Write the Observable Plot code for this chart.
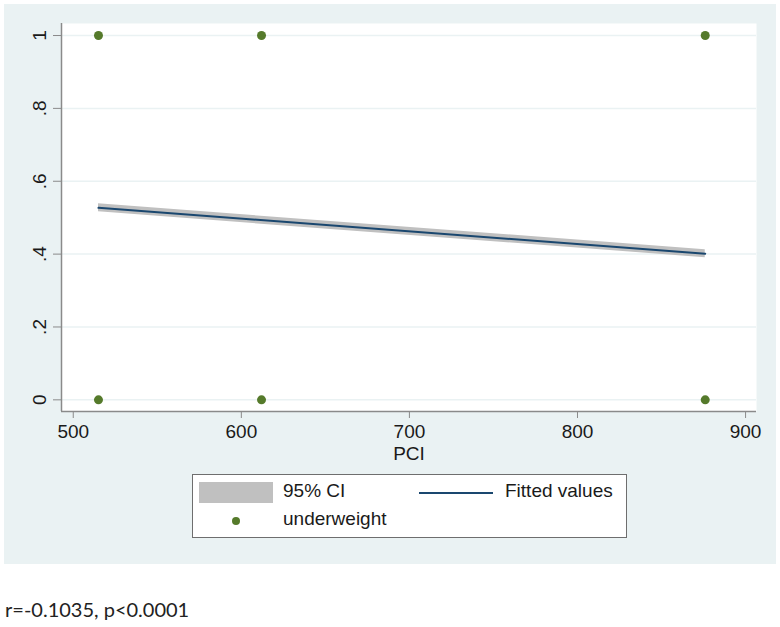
<!DOCTYPE html>
<html>
<head>
<meta charset="utf-8">
<script src="https://cdn.jsdelivr.net/npm/d3@7"></script>
<script src="https://cdn.jsdelivr.net/npm/@observablehq/plot@0.6"></script>
<style>
  html, body { margin: 0; padding: 0; background: #ffffff; }
  #wrap { position: relative; width: 780px; height: 627px; overflow: hidden; }
  #panel { position: absolute; left: 4px; top: 4px; width: 772px; height: 560px; background: #eaf2f3; }
  #chart { position: absolute; left: 0; top: 0; }
  #legend { position: absolute; left: 192px; top: 474px; width: 433px; height: 62px; background: #ffffff; border: 1px solid #6e6e6e;
            font-family: "Liberation Sans", Arial, sans-serif; font-size: 19px; color: #1a1a1a; }
  .lg { position: absolute; }
  #caption { position: absolute; left: 5px; top: 597px; font-family: Lato, "Open Sans", sans-serif; font-size: 20px; color: #222; white-space: nowrap; }
</style>
</head>
<body>
<div id="wrap">
  <div id="panel"></div>
  <div id="chart"></div>
  <div id="legend"></div>
  <div id="caption"></div>
</div>
<script>
// ---- data ----
const pointX = [515, 515, 612, 612, 876, 876];
const pointY = [1, 0, 1, 0, 1, 0];
const fitX = [515, 876];
const fitY = [0.527, 0.401];
const ciLow = [0.516, 0.390];
const ciHigh = [0.538, 0.412];
const xTicks = [500, 600, 700, 800, 900];
const yTicks = [0, 0.2, 0.4, 0.6, 0.8, 1];
const yTickLabels = ["0", ".2", ".4", ".6", ".8", "1"];
const xLabel = "PCI";
const legendLabels = ["95% CI", "Fitted values", "underweight"];
const captionText = "r=-0.1035, p<0.0001";

const colors = { ci: "#c0c0c0", fit: "#1a476f", point: "#557a2b", grid: "#eaf2f3", axis: "#8a8a8a", text: "#1a1a1a" };
const xDomain = [493, 906.5];
const yDomain = [-0.032, 1.033];

const points = pointX.map((x, i) => ({ x, y: pointY[i] }));
const fit = fitX.map((x, i) => ({ x, y: fitY[i], lo: ciLow[i], hi: ciHigh[i] }));
const fmtY = d => yTickLabels[yTicks.indexOf(d)];

const chart = Plot.plot({
  width: 780,
  height: 627,
  marginLeft: 61,
  marginRight: 24,
  marginTop: 23,
  marginBottom: 216,
  style: { background: "transparent", fontFamily: "'Liberation Sans', Arial, sans-serif", fontSize: "19px", color: colors.text },
  x: { domain: xDomain },
  y: { domain: yDomain },
  marks: [
    Plot.frame({ fill: "white", stroke: null }),
    Plot.gridY(yTicks, { stroke: colors.grid, strokeOpacity: 1, strokeWidth: 1.5 }),
    Plot.ruleX([xDomain[0]], { stroke: colors.axis, strokeWidth: 1.5 }),
    Plot.ruleY([yDomain[0]], { stroke: colors.axis, strokeWidth: 1.5 }),
    Plot.axisX({ ticks: xTicks, tickSize: 7, tickPadding: 6, stroke: colors.axis, fill: colors.text, fontSize: 19, label: null }),
    Plot.axisY({ ticks: yTicks, tickSize: 8, tickPadding: 8, tickRotate: -90, tickFormat: fmtY, stroke: colors.axis, fill: colors.text, fontSize: 19, label: null }),
    Plot.text([xLabel], { frameAnchor: "bottom", dy: 48, fontSize: 19, fill: colors.text }),
    Plot.areaY(fit, { x: "x", y1: "lo", y2: "hi", fill: colors.ci }),
    Plot.line(fit, { x: "x", y: "y", stroke: colors.fit, strokeWidth: 2 }),
    Plot.dot(points, { x: "x", y: "y", r: 4.5, fill: colors.point, stroke: null })
  ]
});
document.getElementById("chart").appendChild(chart);

// legend
const lg = document.getElementById("legend");
function add(html, style) { const d = document.createElement("div"); d.className = "lg"; d.innerHTML = html; Object.assign(d.style, style); lg.appendChild(d); }
add("", { left: "6px", top: "7px", width: "74px", height: "21px", background: colors.ci });
add(legendLabels[0], { left: "90px", top: "5px" });
add("", { left: "226px", top: "17px", width: "74px", height: "2px", background: colors.fit });
add(legendLabels[1], { left: "312px", top: "5px" });
add("", { left: "39px", top: "42px", width: "8px", height: "8px", borderRadius: "50%", background: colors.point });
add(legendLabels[2], { left: "90px", top: "33px" });

document.getElementById("caption").textContent = captionText;
</script>
</body>
</html>
